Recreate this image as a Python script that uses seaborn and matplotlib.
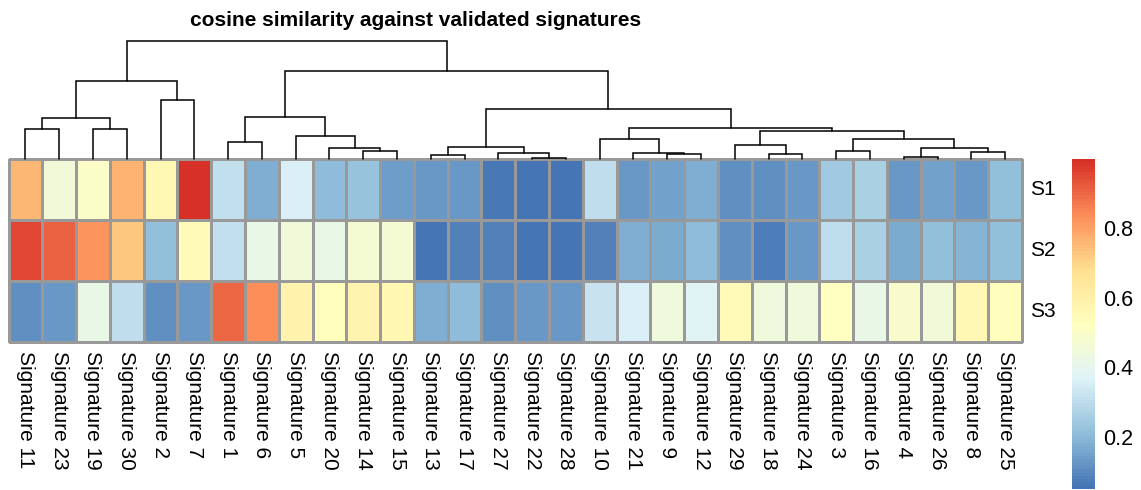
import numpy as np
import pandas as pd
import matplotlib
matplotlib.use("Agg")
import matplotlib.pyplot as plt
import seaborn as sns
from matplotlib.colors import LinearSegmentedColormap, ListedColormap

sns.set_style("white")
plt.rcParams["font.family"] = ["Liberation Sans", "DejaVu Sans"]
plt.rcParams["text.color"] = "black"
plt.rcParams["xtick.color"] = "black"
plt.rcParams["ytick.color"] = "black"

# ---------------- data ----------------
title = "cosine similarity against validated signatures"
signatures = ["Signature 11", "Signature 23", "Signature 19", "Signature 30", "Signature 2",
              "Signature 7", "Signature 1", "Signature 6", "Signature 5", "Signature 20",
              "Signature 14", "Signature 15", "Signature 13", "Signature 17", "Signature 27",
              "Signature 22", "Signature 28", "Signature 10", "Signature 21", "Signature 9",
              "Signature 12", "Signature 29", "Signature 18", "Signature 24", "Signature 3",
              "Signature 16", "Signature 4", "Signature 26", "Signature 8", "Signature 25"]
samples = ["S1", "S2", "S3"]

s1 = [0.76, 0.45, 0.50, 0.77, 0.56, 1.00, 0.31, 0.18, 0.36, 0.21,
      0.23, 0.14, 0.13, 0.13, 0.06, 0.05, 0.05, 0.30, 0.13, 0.145,
      0.18, 0.115, 0.11, 0.13, 0.245, 0.265, 0.13, 0.15, 0.13, 0.215]
s2 = [0.96, 0.91, 0.82, 0.73, 0.22, 0.545, 0.31, 0.415, 0.455, 0.42,
      0.47, 0.47, 0.05, 0.083, 0.083, 0.05, 0.05, 0.08, 0.18, 0.17,
      0.205, 0.115, 0.07, 0.13, 0.305, 0.265, 0.17, 0.215, 0.19, 0.215]
s3 = [0.11, 0.13, 0.42, 0.305, 0.11, 0.13, 0.90, 0.83, 0.585, 0.53,
      0.58, 0.565, 0.18, 0.205, 0.11, 0.13, 0.13, 0.32, 0.36, 0.44,
      0.38, 0.55, 0.44, 0.44, 0.52, 0.42, 0.49, 0.45, 0.56, 0.53]

# column dendrogram: merges (left, right, height); "#k" refers to merge k
merge_left = ["Signature 11", "Signature 19", "#0", "Signature 2", "#2",
              "Signature 1", "Signature 14", "Signature 20", "Signature 5", "#5",
              "Signature 13", "Signature 22", "Signature 27", "#10", "Signature 9",
              "Signature 21", "Signature 10", "Signature 18", "Signature 29", "Signature 3",
              "Signature 4", "Signature 8", "#20", "#19", "#18",
              "#16", "#13", "#9", "#4"]
merge_right = ["Signature 23", "Signature 30", "#1", "Signature 7", "#3",
               "Signature 6", "Signature 15", "#6", "#7", "#8",
               "Signature 17", "Signature 28", "#11", "#12", "Signature 12",
               "#14", "#15", "Signature 24", "#17", "Signature 16",
               "Signature 26", "Signature 25", "#21", "#22", "#23",
               "#24", "#25", "#26", "#27"]
merge_height = [30.0, 30.0, 41.0, 59.0, 78.6,
                17.6, 8.6, 11.0, 23.0, 42.0,
                4.3, 1.6, 6.6, 12.6, 5.0,
                6.0, 20.6, 5.3, 14.6, 8.6,
                2.3, 7.6, 11.6, 20.0, 28.6,
                30.8, 50.3, 88.6, 118.6]

palette_anchors = ["#4575B4", "#91BFDB", "#E0F3F8", "#FFFFBF", "#FEE090", "#FC8D59", "#D73027"]
cbar_ticks = [0.2, 0.4, 0.6, 0.8]

# ---------------- figure ----------------
df = pd.DataFrame([s1, s2, s3], index=samples, columns=signatures)
base = LinearSegmentedColormap.from_list("rdylbu_r", palette_anchors)
cmap = ListedColormap(base(np.linspace(0, 1, 100)))

W, H = 1141, 490
fig = plt.figure(figsize=(W / 100, H / 100), dpi=100)


def px(l, t, r, b):
    return [l / W, 1 - b / H, (r - l) / W, (b - t) / H]


ax = fig.add_axes(px(8.5, 159.3, 1022, 341.7))
dax = fig.add_axes(px(8.5, 40.7, 1022, 159.3))
cax = fig.add_axes(px(1072, 159, 1095, 489))

vmin, vmax = float(df.values.min()), float(df.values.max())
sns.heatmap(df, ax=ax, cmap=cmap, vmin=vmin, vmax=vmax, linewidths=0.9,
            linecolor="#999999", cbar_ax=cax, cbar_kws={"ticks": cbar_ticks})
ax.collections[0].set_clip_on(False)

ax.set_xlabel("")
ax.set_ylabel("")
ax.set_xticks(np.arange(len(signatures)) + 0.5)
ax.set_xticklabels(signatures, rotation=270, fontsize=15, va="top", ha="center",
                   color="black")
ax.yaxis.tick_right()
ax.set_yticks(np.arange(len(samples)) + 0.5)
ax.set_yticklabels(samples, rotation=0, fontsize=15, va="center", color="black")
ax.tick_params(axis="x", length=0, pad=7)
ax.tick_params(axis="y", length=0, pad=6)

cbar = ax.collections[0].colorbar
cbar.outline.set_visible(False)
cax.tick_params(length=0, labelsize=15.5, pad=6, labelcolor="black")
cax.set_yticklabels([f"{t:.1f}" for t in cbar_ticks])

# dendrogram
pos = {s: i + 0.5 for i, s in enumerate(signatures)}
ht = {s: 0.0 for s in signatures}
for k, (l, r, h) in enumerate(zip(merge_left, merge_right, merge_height)):
    xl, yl, xr, yr = pos[l], ht[l], pos[r], ht[r]
    dax.plot([xl, xl, xr, xr], [yl, h, h, yr], color="black", lw=1.1, clip_on=False,
             solid_joinstyle="miter")
    pos[f"#{k}"] = (xl + xr) / 2
    ht[f"#{k}"] = h
dax.set_xlim(0, len(signatures))
dax.set_ylim(0, max(merge_height))
dax.axis("off")

fig.text(415.5 / W, 1 - 20 / H, title, ha="center", va="center",
         fontsize=15, fontweight="bold", color="black")

fig.savefig("out.png", dpi=100)
